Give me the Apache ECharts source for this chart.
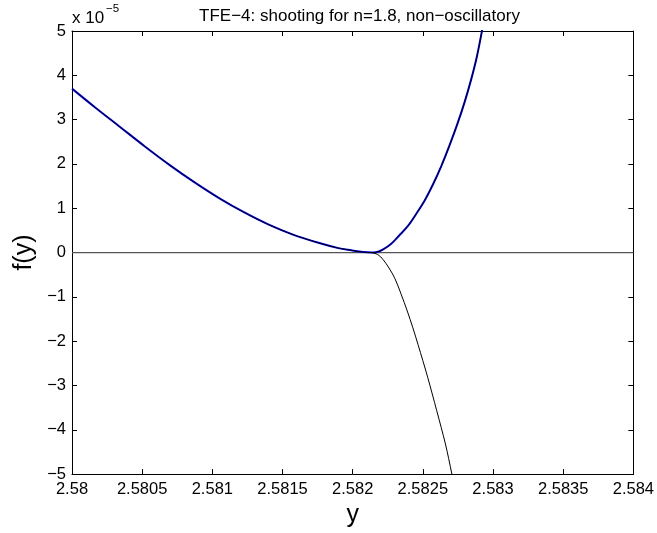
<!DOCTYPE html>
<html>
<head>
<meta charset="utf-8">
<script src="https://cdn.jsdelivr.net/npm/echarts@6/dist/echarts.min.js"></script>
<style>
html,body{margin:0;padding:0;background:#fff;}
#c{width:657px;height:533px;}
</style>
</head>
<body>
<div id="c"></div>
<script>
// Data (f values in units of 1e-5)
var titleText = 'TFE\u22124: shooting for n=1.8, non\u2212oscillatory';
var xTicksMin = 2.58, xTicksMax = 2.584, xTickStep = 0.0005;
var yTicksMin = -5, yTicksMax = 5, yTickStep = 1;

var leftX = [2.58, 2.580163, 2.58034, 2.580517, 2.580694, 2.580871, 2.581048, 2.581225, 2.581402, 2.581579, 2.581756, 2.581898, 2.58199, 2.582075, 2.582134];
var leftV = [3.70, 3.28, 2.84, 2.40, 1.98, 1.59, 1.23, 0.91, 0.63, 0.40, 0.22, 0.10, 0.05, 0.01, 0.0];

var upX = [2.582134, 2.582181, 2.582217, 2.582275, 2.58233, 2.582394, 2.58245, 2.582512, 2.582571, 2.58263, 2.582688, 2.582748, 2.582797, 2.582842, 2.582882, 2.58292, 2.582953];
var upV = [0.0, 0.02, 0.07, 0.20, 0.38, 0.60, 0.86, 1.17, 1.53, 1.94, 2.40, 2.92, 3.39, 3.88, 4.38, 4.98, 5.55];

var downX = [2.582134, 2.582181, 2.582217, 2.582259, 2.5823, 2.582344, 2.582389, 2.582429, 2.582465, 2.5825, 2.582535, 2.582567, 2.582599, 2.582631, 2.582661, 2.582684, 2.582707, 2.582727];
var downV = [0.0, -0.05, -0.16, -0.35, -0.58, -0.93, -1.32, -1.70, -2.07, -2.44, -2.82, -3.19, -3.57, -3.95, -4.32, -4.65, -5.0, -5.3];

var zeroX = [2.58, 2.584];
var zeroV = [0, 0];

function pairs(xs, vs) { return xs.map(function (x, i) { return [x, vs[i]]; }); }
var upperCurve = pairs(leftX, leftV).concat(pairs(upX, upV).slice(1));
var lowerCurve = pairs(downX, downV);

var FONT = 'Liberation Sans, Arial, Helvetica, sans-serif';
var chart = echarts.init(document.getElementById('c'), null, {renderer: 'canvas'});

function fmtX(v) { return String(parseFloat(v.toFixed(4))); }
function fmtY(v) { var r = Math.round(v); return r < 0 ? '\u2212' + (-r) : String(r); }

var axisCommon = {
  axisLine: {show: true, onZero: false, lineStyle: {color: '#000', width: 1}},
  axisTick: {show: true, inside: true, length: 5, lineStyle: {color: '#000', width: 1}},
  splitLine: {show: false}
};

chart.setOption({
  animation: false,
  backgroundColor: '#fff',
  title: {
    text: titleText, left: 354.5, textAlign: 'center', top: 3,
    textStyle: {fontFamily: FONT, fontSize: 17, fontWeight: 'normal', color: '#000'}
  },
  grid: {left: 72, right: 19, top: 31, bottom: 58, containLabel: false},
  graphic: [
    {type: 'text', left: 72, top: 10, style: {text: 'x 10', font: '17px ' + FONT, fill: '#000'}},
    {type: 'text', left: 106, top: 3, style: {text: '\u22125', font: '11.5px ' + FONT, fill: '#000'}}
  ],
  xAxis: [
    Object.assign({}, axisCommon, {
      type: 'value', position: 'bottom', min: xTicksMin, max: xTicksMax, interval: xTickStep,
      axisLabel: {formatter: fmtX, fontFamily: FONT, fontSize: 16.5, color: '#000', margin: 7, showMinLabel: true, showMaxLabel: true},
      name: 'y', nameLocation: 'middle', nameGap: 27,
      nameTextStyle: {fontFamily: FONT, fontSize: 25, color: '#000'}
    }),
    Object.assign({}, axisCommon, {
      type: 'value', position: 'top', min: xTicksMin, max: xTicksMax, interval: xTickStep,
      axisLabel: {show: false}
    })
  ],
  yAxis: [
    Object.assign({}, axisCommon, {
      type: 'value', position: 'left', min: yTicksMin, max: yTicksMax, interval: yTickStep,
      axisLabel: {formatter: fmtY, fontFamily: FONT, fontSize: 16.5, color: '#000', margin: 6},
      name: 'f(y)', nameLocation: 'middle', nameGap: 34,
      nameTextStyle: {fontFamily: FONT, fontSize: 25, color: '#000'}
    }),
    Object.assign({}, axisCommon, {
      type: 'value', position: 'right', min: yTicksMin, max: yTicksMax, interval: yTickStep,
      axisLabel: {show: false}
    })
  ],
  series: [
    {type: 'line', data: pairs(zeroX, zeroV), showSymbol: false, symbol: 'none', z: 1,
     lineStyle: {color: '#555', width: 1.2}},
    {type: 'line', data: upperCurve, showSymbol: false, symbol: 'none', smooth: 0.35, clip: true, z: 2,
     lineStyle: {color: '#0000ff', width: 2}},
    {type: 'line', data: upperCurve, showSymbol: false, symbol: 'none', smooth: 0.35, clip: true, z: 3,
     lineStyle: {color: '#000', width: 1}},
    {type: 'line', data: lowerCurve, showSymbol: false, symbol: 'none', smooth: 0.35, clip: true, z: 3,
     lineStyle: {color: '#000', width: 1}}
  ]
});
</script>
</body>
</html>
